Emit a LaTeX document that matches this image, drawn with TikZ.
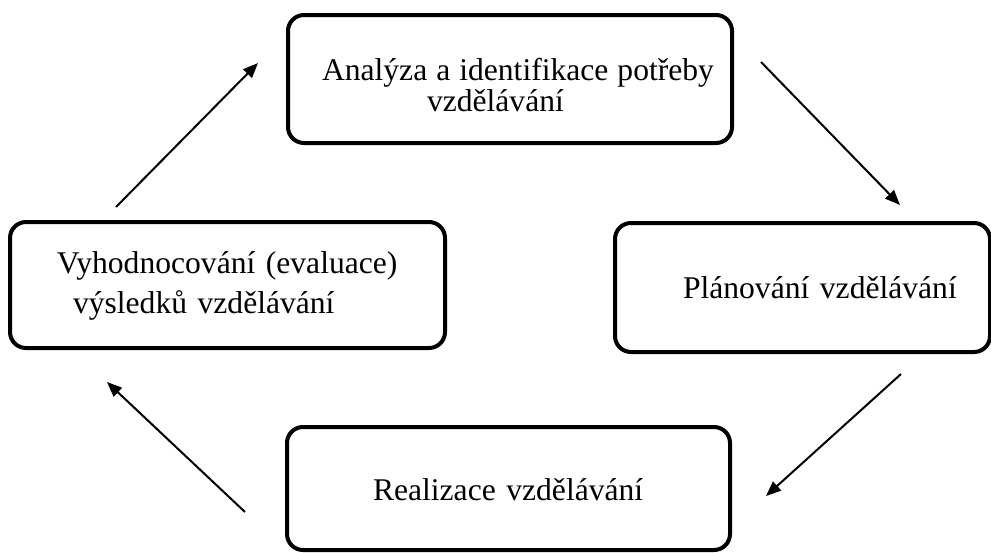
\documentclass[tikz,border=0pt]{standalone}
\usepackage{fontspec}
\setmainfont{Liberation Serif}
\usetikzlibrary{arrows.meta}

\tikzstyle{b} = [rectangle, draw, line width=4pt, rounded corners=16pt, inner sep=0pt, align=left, font=\fontsize{31.6}{31}\selectfont]
\tikzstyle{arr} = [line width=2pt, -{Triangle[length=15pt,width=12pt]}]

\begin{document}
\begin{tikzpicture}[x=1pt,y=-1pt]
\useasboundingbox (0,0) rectangle (991,552);
\node [b, text width=444pt, minimum height=128pt] (a) at (510,79) {\spaceskip=9pt\hspace*{34pt}\rule{0pt}{35pt}Analýza a identifikace potřeby\\\hspace*{139pt}vzdělávání};
\node [b, text width=375pt, minimum height=129pt] (b) at (802.5,287.5) {\hspace*{68pt}Plánování vzdělávání};
\node [b, text width=443pt, minimum height=123pt] (c) at (508.5,488.5) {\hspace*{86pt}\rule{0pt}{25pt}Realizace vzdělávání};
\node [b, text width=435pt, minimum height=126pt] (d) at (227.5,285) {\hspace*{47pt}\rule{0pt}{24pt}Vyhodnocování (evaluace)\\[9pt]\hspace*{63pt}výsledků vzdělávání};

\coordinate (d-out) at (116,207);
\coordinate (a-in) at (258,63);
\coordinate (a-out) at (761,62);
\coordinate (b-in) at (900,205);
\coordinate (b-out) at (901,374);
\coordinate (c-in) at (766,496);
\coordinate (c-out) at (245,512);
\coordinate (d-in) at (107,382);

\draw [arr] (d-out) -- (a-in);
\draw [arr] (a-out) -- (b-in);
\draw [arr] (b-out) -- (c-in);
\draw [arr] (c-out) -- (d-in);
\end{tikzpicture}
\end{document}
